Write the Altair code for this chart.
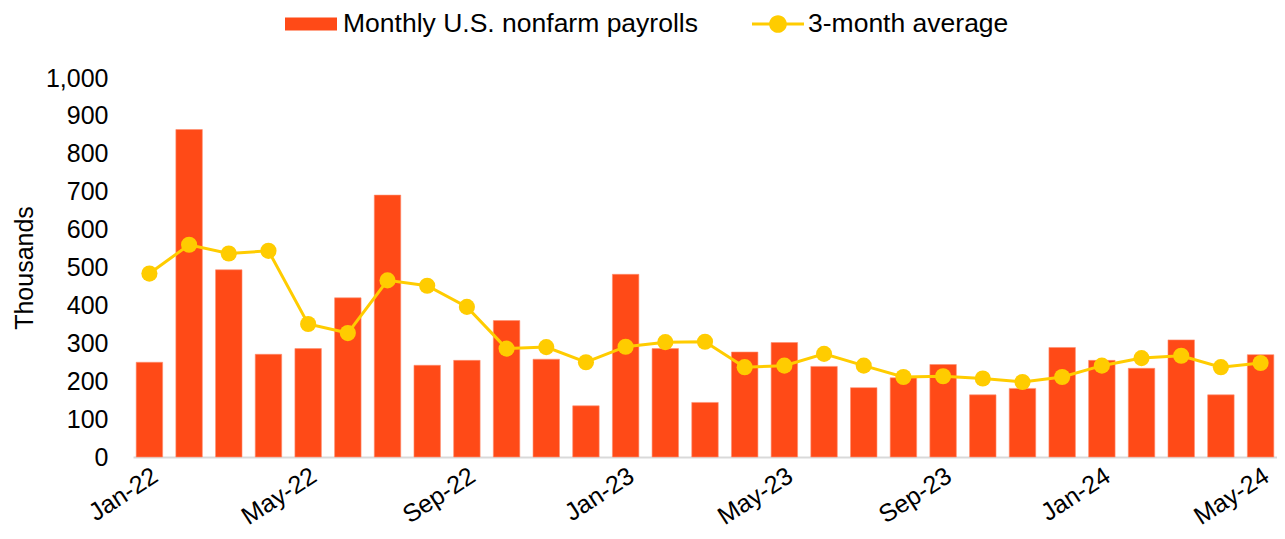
import altair as alt
import pandas as pd

months = ["Jan-22", "Feb-22", "Mar-22", "Apr-22", "May-22", "Jun-22", "Jul-22", "Aug-22",
          "Sep-22", "Oct-22", "Nov-22", "Dec-22", "Jan-23", "Feb-23", "Mar-23", "Apr-23",
          "May-23", "Jun-23", "Jul-23", "Aug-23", "Sep-23", "Oct-23", "Nov-23", "Dec-23",
          "Jan-24", "Feb-24", "Mar-24", "Apr-24", "May-24"]
payrolls = [250, 864, 494, 271, 286, 420, 691, 242, 255, 360, 258, 135,
            482, 286, 144, 277, 302, 239, 183, 209, 244, 164, 181, 289,
            255, 234, 309, 164, 270]
avg3 = [484, 560, 537, 544, 351, 327, 466, 452, 396, 286, 290, 250,
        291, 303, 304, 237, 241, 272, 241, 211, 213, 207, 198, 211,
        241, 261, 267, 237, 248]
tick_labels = ["Jan-22", "May-22", "Sep-22", "Jan-23", "May-23", "Sep-23", "Jan-24", "May-24"]
y_ticks = [0, 100, 200, 300, 400, 500, 600, 700, 800, 900, 1000]
bar_name = "Monthly U.S. nonfarm payrolls"
line_name = "3-month average"

df = pd.DataFrame({
    "month": months,
    "payrolls": payrolls,
    "avg3": avg3,
    "bar_series": [bar_name] * len(months),
    "line_series": [line_name] * len(months),
})

FONT = "Liberation Sans"
BAR_COLOR = "#FF4A17"
LINE_COLOR = "#FFCC00"

x_scale = alt.Scale(paddingInner=0.333, paddingOuter=0.08)
x_axis = alt.Axis(values=tick_labels, title=None, labelAngle=-33, labelAlign="right",
                  labelBaseline="middle", labelPadding=16, labelOffset=6, ticks=False,
                  domainColor="#d9d9d9", domainWidth=2, labelFontSize=25,
                  labelColor="#000000", labelFont=FONT, labelLimit=300,
                  labelOverlap=False)
y_scale = alt.Scale(domain=[0, 1000], nice=False)
y_axis = alt.Axis(values=y_ticks, tickCount=11, format=",.0f", grid=False, domain=False,
                  ticks=False, labelPadding=25, labelFontSize=25, labelFont=FONT,
                  labelColor="#000000", labelOverlap=False, labelFlush=False,
                  title="Thousands", titleFontSize=25, titleFont=FONT,
                  titleFontWeight="normal", titleColor="#000000", titlePadding=8)

x_enc = alt.X("month:N", sort=months, scale=x_scale, axis=x_axis)

bars = alt.Chart().mark_bar(stroke="#FF8F70", strokeWidth=0.6).encode(
    x=x_enc,
    y=alt.Y("payrolls:Q", scale=y_scale, axis=y_axis),
    color=alt.Color("bar_series:N",
                    scale=alt.Scale(domain=[bar_name], range=[BAR_COLOR]),
                    legend=alt.Legend(title=None, orient="none", legendX=152, legendY=-80,
                                      symbolType="M-1,-0.25H1V0.25H-1Z", symbolSize=2704,
                                      symbolStrokeWidth=0, labelFontSize=26.5, labelFont=FONT,
                                      labelColor="#000000", labelOffset=6, padding=0,
                                      labelLimit=600)),
)

line = alt.Chart().mark_line(strokeWidth=3).encode(
    x=x_enc,
    y=alt.Y("avg3:Q", scale=y_scale, axis=y_axis),
    color=alt.value(LINE_COLOR),
)

points = alt.Chart().mark_circle(size=260, opacity=1).encode(
    x=x_enc,
    y=alt.Y("avg3:Q", scale=y_scale, axis=y_axis),
    color=alt.Color("line_series:N",
                    scale=alt.Scale(domain=[line_name], range=[LINE_COLOR]),
                    legend=alt.Legend(title=None, orient="none", legendX=619, legendY=-80,
                                      symbolType="M-1,-0.06H1V0.06H-1Z M0.34,0 A0.34,0.34 0 1 1 -0.34,0 A0.34,0.34 0 1 1 0.34,0Z",
                                      symbolSize=2704, symbolStrokeWidth=0, symbolOpacity=1,
                                      labelFontSize=26.5, labelFont=FONT, labelColor="#000000",
                                      labelOffset=4, padding=0, labelLimit=600)),
)

chart = alt.layer(bars, line, points, data=df).resolve_scale(
    color="independent"
).properties(
    width=1144, height=379,
    padding={"left": 125, "top": 70, "right": 0, "bottom": 74},
    autosize=alt.AutoSizeParams(type="none"),
    background="white",
).configure_view(stroke=None).configure_axis(labelOverlap=False)

chart.save("out.html", embed_options={"renderer": "svg", "actions": False})
